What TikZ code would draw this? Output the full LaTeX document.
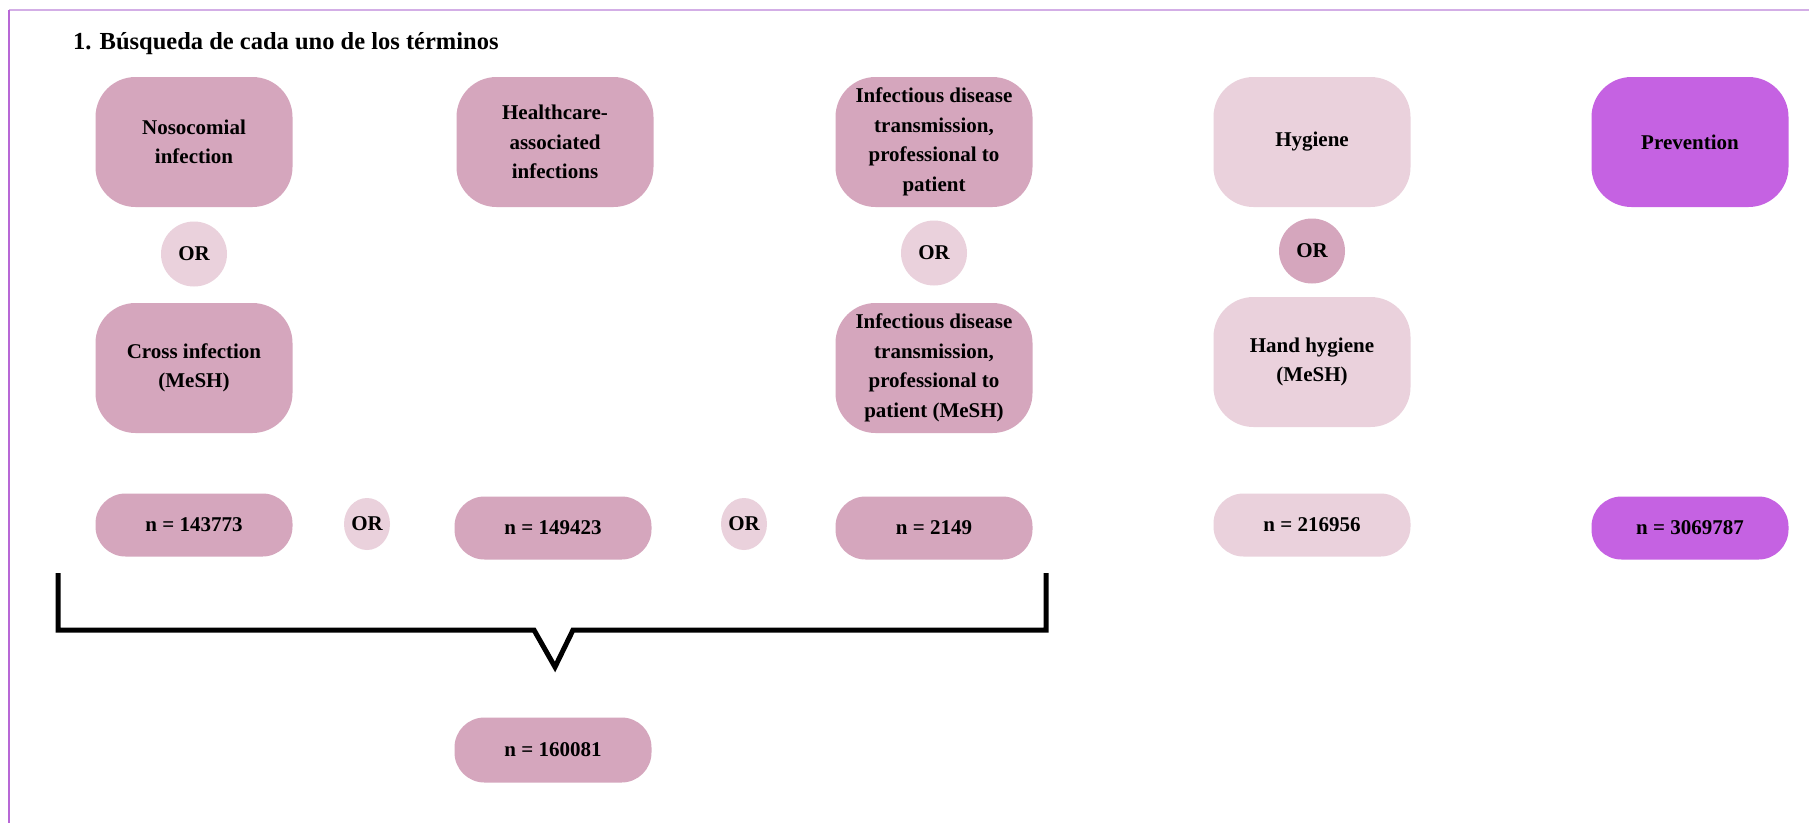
\documentclass[tikz,border=0pt]{standalone}
\usepackage{fontspec}
\setmainfont{Liberation Serif}
\usetikzlibrary{shapes.geometric}
\definecolor{pinkD}{HTML}{D5A6BD}
\definecolor{pinkL}{HTML}{EAD1DC}
\definecolor{purp}{HTML}{C562E2}
\definecolor{frameA}{HTML}{D3AEE6}
\definecolor{frameB}{HTML}{B868D6}
\tikzset{
  box/.style={rounded corners=40pt, minimum width=197pt, minimum height=130pt,
    align=center, inner sep=0pt, font=\fontsize{21}{29.5}\selectfont\bfseries},
  nbox/.style={rounded corners=30pt, minimum width=197pt, minimum height=63pt,
    align=center, inner sep=0pt, font=\fontsize{21}{25}\selectfont\bfseries},
  orbig/.style={ellipse, minimum width=66pt, minimum height=65pt, inner sep=0pt,
    font=\fontsize{21}{25}\selectfont\bfseries},
  orsmall/.style={ellipse, minimum width=46pt, minimum height=52pt, inner sep=0pt,
    font=\fontsize{21}{25}\selectfont\bfseries},
  dk/.style={fill=pinkD},
  lt/.style={fill=pinkL},
  pp/.style={fill=purp},
  bracket/.style={line width=5pt, line join=miter, black},
}
\begin{document}
\begin{tikzpicture}[x=1pt, y=-1pt]
\useasboundingbox (0,0) rectangle (1809,823);
\fill[white] (0,0) rectangle (1809,823);
% frame
\draw[frameA, line width=2pt] (1809,10) -- (9,10);
\draw[frameB, line width=2pt] (9,10) -- (9,823);
% title
\node[anchor=west, inner sep=0pt, font=\fontsize{24.5}{28}\selectfont\bfseries] (title) at (73,44) {1. Búsqueda de cada uno de los términos};
% row 1
\node[box, dk] (noso) at (194,142) {Nosocomial\\infection};
\node[box, dk] (health) at (555,142) {Healthcare-\\associated\\infections};
\node[box, dk] (infec) at (934,142) {Infectious disease\\transmission,\\professional to\\patient};
\node[box, lt] (hyg) at (1312,142) {Hygiene};
\node[box, pp] (prev) at (1690,142) {Prevention};
% row 2
\node[orbig, lt] (or1) at (194,254) {OR};
\node[orbig, lt] (or2) at (934,253) {OR};
\node[orbig, dk] (or3) at (1312,251) {OR};
% row 3
\node[box, dk] (cross) at (194,368) {Cross infection\\(MeSH)};
\node[box, dk] (infecm) at (934,368) {Infectious disease\\transmission,\\professional to\\patient (MeSH)};
\node[box, lt] (hand) at (1312,362) {Hand hygiene\\(MeSH)};
% row 4
\node[nbox, dk] (n1) at (194,525) {n = 143773};
\node[orsmall, lt] (or4) at (367,524) {OR};
\node[nbox, dk] (n2) at (553,528) {n = 149423};
\node[orsmall, lt] (or5) at (744,524) {OR};
\node[nbox, dk] (n3) at (934,528) {n = 2149};
\node[nbox, lt] (n4) at (1312,525) {n = 216956};
\node[nbox, pp] (n5) at (1690,528) {n = 3069787};
% bracket
\coordinate (bl) at (58,573);
\coordinate (br) at (1046,573);
\coordinate (tip) at (555,667);
\draw[bracket] (bl) -- (58,630) -- (534,630) -- (tip) -- (573,630) -- (1046,630) -- (br);
% result
\node[nbox, dk, minimum height=65pt] (tot) at (553,750) {n = 160081};
\end{tikzpicture}
\end{document}
